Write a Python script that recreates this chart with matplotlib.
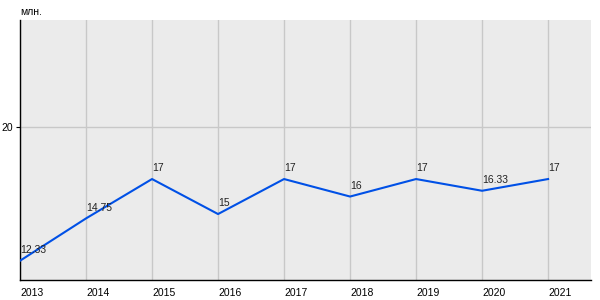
import matplotlib
matplotlib.use('Agg')
import matplotlib.pyplot as plt

years = [2013, 2014, 2015, 2016, 2017, 2018, 2019, 2020, 2021]
values = [12.33, 14.75, 17, 15, 17, 16, 17, 16.33, 17]
labels = ['12.33', '14.75', '17', '15', '17', '16', '17', '16.33', '17']

plt.rcParams['font.family'] = ['Liberation Sans', 'DejaVu Sans']

fig = plt.figure(figsize=(6, 3), dpi=100)
ax = fig.add_axes([20 / 600, 20 / 300, 571 / 600, 260 / 300])
ax.set_facecolor('#EBEBEB')

ax.plot(years, values, color='#0050E6', lw=1.5, zorder=3)
for x, y, t in zip(years, values, labels):
    ax.annotate(t, (x, y), xytext=(0, 4), textcoords='offset points',
                ha='left', va='bottom', fontsize=7.5, color='#222222', zorder=4)

ax.set_xlim(2013, 2021.65)
ax.set_ylim(11.23, 26.09)
ax.set_xticks(years)
ax.set_xticklabels([str(y) for y in years], ha='left')
ax.set_yticks([20])
ax.grid(True, color='#C8C8C8', lw=1)
ax.set_axisbelow(True)

for s in ['top', 'right']:
    ax.spines[s].set_visible(False)
for s in ['left', 'bottom']:
    ax.spines[s].set_color('black')
    ax.spines[s].set_linewidth(1)

ax.tick_params(axis='x', length=0, pad=6, labelsize=7.5)
ax.tick_params(axis='y', length=3, pad=2, labelsize=7.5)

fig.text(20 / 600, 1 - 12 / 300, 'млн.', fontsize=7.5, ha='left', va='center')

fig.savefig('out.png', dpi=100)
